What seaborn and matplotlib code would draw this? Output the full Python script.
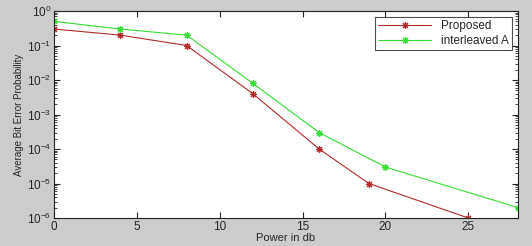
import matplotlib
matplotlib.use("Agg")
import matplotlib.pyplot as plt
import seaborn as sns
import pandas as pd
import numpy as np

prop_x = [0, 4, 8, 12, 16, 19, 25]
prop_y = [0.3, 0.2, 0.1, 0.004, 1e-4, 1e-5, 1e-6]
inter_x = [0, 4, 8, 12, 16, 20, 28]
inter_y = [0.5, 0.3, 0.2, 0.008, 3e-4, 3e-5, 2e-6]
series_names = ["Proposed", "interleaved A"]

df = pd.concat([
    pd.DataFrame({"x": prop_x, "y": prop_y, "s": series_names[0]}),
    pd.DataFrame({"x": inter_x, "y": inter_y, "s": series_names[1]}),
])

sns.set_style("ticks")
plt.rcParams['font.family'] = ['Liberation Sans', 'DejaVu Sans']

fig = plt.figure(figsize=(5.32, 2.46), dpi=100, facecolor="#cccccc")
ax = fig.add_axes([54/532, 1 - 218/246, (518-54)/532, (218-11)/246])
ax.set_facecolor("white")

palette = {series_names[0]: "#b22a2a", series_names[1]: "#33dd33"}
sns.lineplot(data=df, x="x", y="y", hue="s", palette=palette, marker=(8, 2, 0),
             markersize=5, markeredgewidth=0.8, linewidth=0.8, ax=ax, legend=True)
for ln in ax.get_lines():
    ln.set_markeredgecolor(ln.get_color())
ax.set_yscale("log")
ax.set_xlim(0, 28)
ax.set_ylim(1e-6, 1)
ax.set_xticks([0, 5, 10, 15, 20, 25])
ax.set_yticks([1e-6, 1e-5, 1e-4, 1e-3, 1e-2, 1e-1, 1])
ax.tick_params(axis="both", direction="in", labelsize=8.5, length=4, top=True, right=True, pad=2)
ax.tick_params(axis="y", which="minor", direction="in", length=2, right=True)
ax.set_xlabel("Power in db", fontsize=8, labelpad=0)
ax.set_ylabel("Average Bit Error Probability", fontsize=7, labelpad=2)
for sp in ax.spines.values():
    sp.set_linewidth(0.8)
    sp.set_color("#222222")
leg = ax.legend(loc="upper right", fontsize=8.5, frameon=True, fancybox=False,
                edgecolor="#222222", handlelength=4.5, borderpad=0.3, labelspacing=0.2)
leg.get_frame().set_linewidth(0.8)
for h in leg.legend_handles:
    h.set_markeredgecolor(h.get_color())
fig.savefig("out.png", dpi=100, facecolor=fig.get_facecolor())
